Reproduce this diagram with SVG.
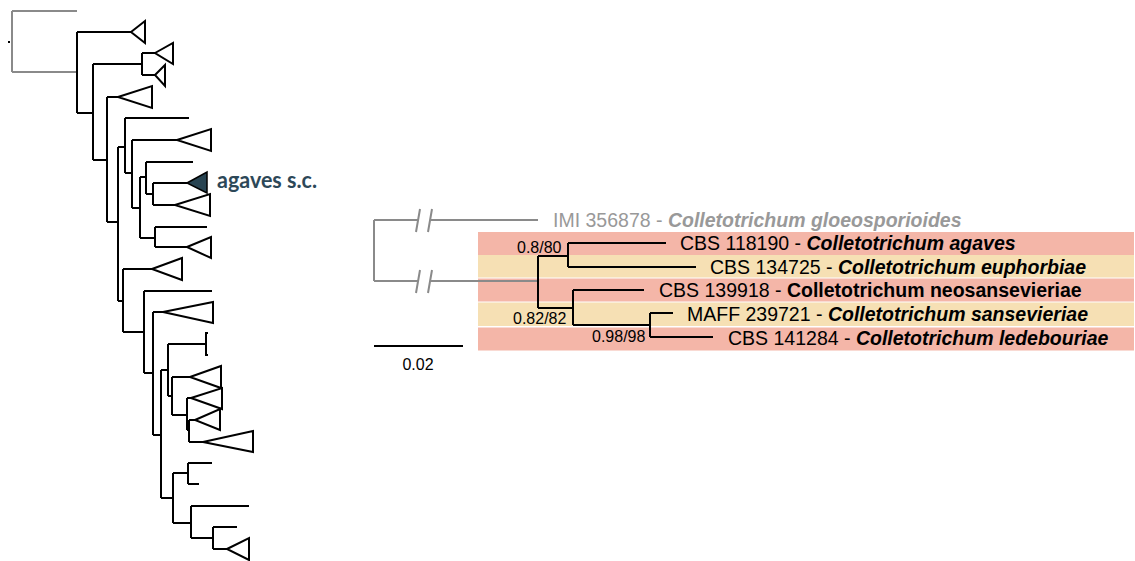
<svg xmlns="http://www.w3.org/2000/svg" width="1135" height="561" viewBox="0 0 1135 561">
<style>
.k{fill:none;stroke:#000;stroke-width:2}
.g{fill:none;stroke:#8a8a8a;stroke-width:2}
.tri{fill:#fff;stroke:#000;stroke-width:2;stroke-linejoin:miter}
.lab{font-family:"Liberation Sans",Arial,sans-serif;font-size:19.5px;fill:#000}
.sp{font-weight:bold;font-style:italic}
.sb{font-weight:bold}
.sup{font-family:"Liberation Sans",Arial,sans-serif;font-size:16px;fill:#000}
.pink{fill:#f4b6a8}
.yel{fill:#f6e0b4}
</style>
<rect width="1135" height="561" fill="#fff"/>

<!-- Left overview tree -->
<g id="overview-tree">
<g id="overview-connectors">
<path class="g" d="M12,11 H77 M12,11 V72 M12,72 H77"/>
<rect x="8" y="41" width="2" height="2" fill="#000"/>
<path class="k" d="
M77,32 V113 M77,32 H131 M77,113 H93
M93,64 V160 M93,64 H142 M142,53 V75 M142,53 H155 M142,75 H155
M93,160 H107 M107,97 V222 M107,97 H118
M107,222 H118 M118,147 V301 M118,147 H125
M125,118 V173 M125,118 H189 M125,173 H132
M132,140 V208 M132,140 H177 M132,208 H140
M140,177 V238 M140,177 H146 M146,162 V194 M146,162 H193 M146,194 H153
M153,183 V205 M153,183 H187 M153,205 H175
M140,238 H155 M155,227 V247 M155,227 H207 M155,247 H187
M118,301 H123 M123,269 V332 M123,269 H152 M123,332 H144
M144,291 V373 M144,291 H212 M144,373 H153
M153,312 V435 M153,312 H163 M153,435 H161
M161,370 V498 M161,370 H168
M168,344 V396 M168,344 H206 M208,333 H206 V355 H208
M168,396 H172 M172,377 V415 M172,377 H190 M172,415 H187
M187,398 V430 M187,398 H191 M187,430 H189
M189,420 V442 M189,420 H195 M189,442 H203
M161,498 H173 M173,473 V523 M173,473 H188
M188,463 V484 M188,463 H212 M188,484 H199
M173,523 H191 M191,506 V538 M191,506 H249 M191,538 H213
M213,527 V549 M213,527 H237 M213,549 H227"/>
</g>
<g id="clade-1"><polygon class="tri" points="131,32 145,21 145,43"/></g>
<g id="clade-2"><polygon class="tri" points="155,53 173,43 173,64"/></g>
<g id="clade-3"><polygon class="tri" points="155,75 165,65 165,86"/></g>
<g id="clade-4"><polygon class="tri" points="118,97 152,86 152,108"/></g>
<g id="clade-5"><polygon class="tri" points="177,140 211,129 211,151"/></g>
<g id="clade-agaves">
<polygon points="187,183 207,172 207,193" fill="#274351" stroke="#000" stroke-width="1.5"/>
<text x="217" y="188" font-family="Lato,'Open Sans',sans-serif" font-weight="bold" font-size="22" fill="#2d4858" textLength="100" lengthAdjust="spacingAndGlyphs">agaves s.c.</text>
</g>
<g id="clade-6"><polygon class="tri" points="175,205 210,194 210,216"/></g>
<g id="clade-7"><polygon class="tri" points="187,247 211,237 211,258"/></g>
<g id="clade-8"><polygon class="tri" points="152,269 182,258 182,280"/></g>
<g id="clade-9"><polygon class="tri" points="163,312 213,302 213,323"/></g>
<g id="clade-10"><polygon class="tri" points="190,377 221,366 221,388"/></g>
<g id="clade-11"><polygon class="tri" points="191,398 222,388 222,409"/></g>
<g id="clade-12"><polygon class="tri" points="195,420 220,409 220,430"/></g>
<g id="clade-13"><polygon class="tri" points="203,442 253,431 253,452"/></g>
<g id="clade-14"><polygon class="tri" points="227,549 249,538 249,560"/></g>
</g>

<!-- Right detail tree -->
<g id="bands">
<rect class="pink" x="478" y="232" width="656" height="23"/>
<rect class="yel" x="478" y="255" width="656" height="22.5"/>
<rect class="pink" x="478" y="278.5" width="656" height="23"/>
<rect class="yel" x="478" y="302.5" width="656" height="23.5"/>
<rect class="pink" x="478" y="327.5" width="656" height="23"/>
</g>

<g id="detail-connectors">
<path class="g" d="M374,220 V281 M374,220 H419 M431,220 H538 M374,281 H419 M431,281 H538"/>
<path class="g" d="M420,209 L416,232 M432,209 L428,232 M420,270 L416,293 M432,270 L428,293"/>
<path class="k" d="
M538,256 V308 M538,256 H568 M568,243 V267 M568,243 H666 M568,267 H696
M538,308 H573 M573,290 V325 M573,290 H644 M573,325 H650
M650,313 V337 M650,313 H673 M650,337 H713"/>
</g>

<g id="leaf-gloeosporioides"><text class="lab" x="553" y="227" fill="#999"><tspan fill="#999">IMI 356878 - </tspan><tspan class="sp" fill="#999">Colletotrichum gloeosporioides</tspan></text></g>
<g id="leaf-agaves"><text class="lab" x="680" y="250">CBS 118190 - <tspan class="sp">Colletotrichum agaves</tspan></text></g>
<g id="leaf-euphorbiae"><text class="lab" x="710" y="273.5">CBS 134725 - <tspan class="sp">Colletotrichum euphorbiae</tspan></text></g>
<g id="leaf-neosansevieriae"><text class="lab" x="659" y="297">CBS 139918 - <tspan class="sb">Colletotrichum neosansevieriae</tspan></text></g>
<g id="leaf-sansevieriae"><text class="lab" x="687" y="320.5">MAFF 239721 - <tspan class="sp">Colletotrichum sansevieriae</tspan></text></g>
<g id="leaf-ledebouriae"><text class="lab" x="728" y="345">CBS 141284 - <tspan class="sp">Colletotrichum ledebouriae</tspan></text></g>

<g id="support-labels">
<text class="sup" x="517" y="253">0.8/80</text>
<text class="sup" x="513" y="324">0.82/82</text>
<text class="sup" x="592" y="342">0.98/98</text>
</g>

<g id="scale-bar">
<path class="k" d="M374,346 H463"/>
<text class="sup" x="418" y="369.5" text-anchor="middle" font-size="15.5">0.02</text>
</g>
</svg>
